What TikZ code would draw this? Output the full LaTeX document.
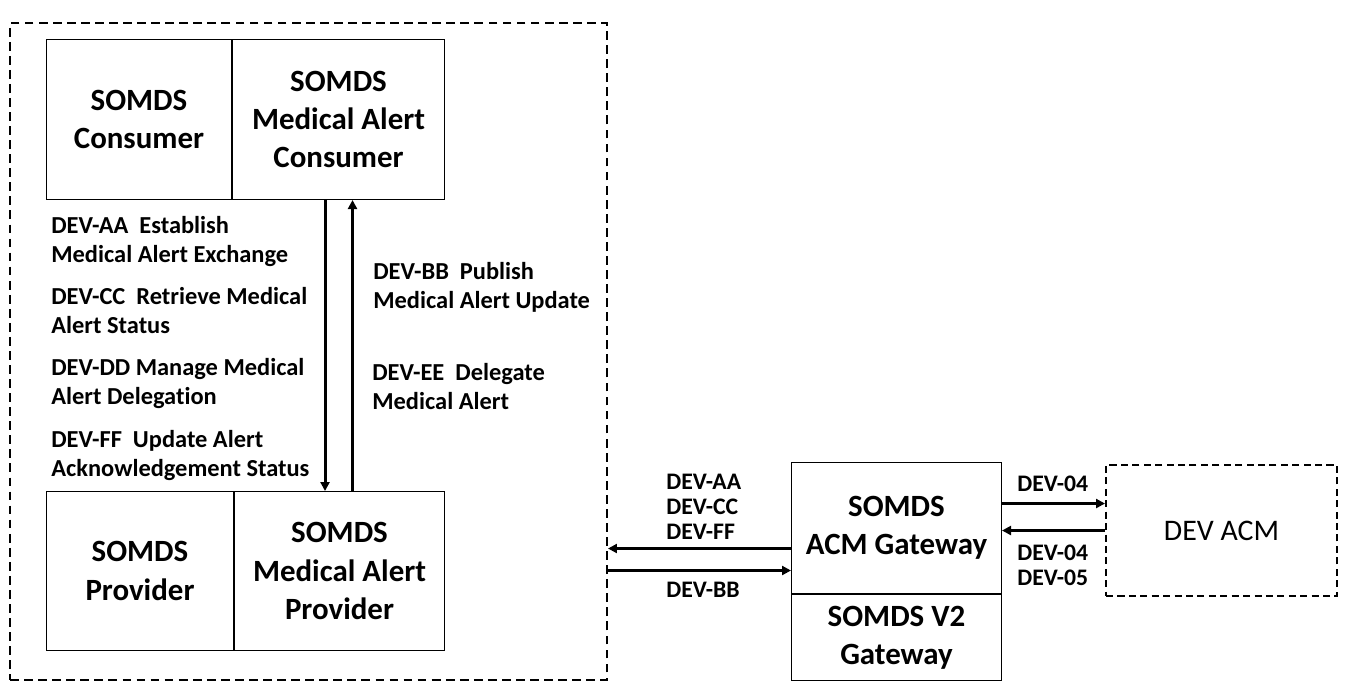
\documentclass[tikz,border=0pt]{standalone}
\usepackage{fontspec}
\setmainfont{Carlito}[Ligatures=NoCommon]
\usepackage{tikz}
\usetikzlibrary{arrows.meta,positioning}

\begin{document}
\begin{tikzpicture}[
    x=0.02cm, y=-0.02cm,
    box/.style={rectangle, draw, line width=0.6pt, minimum height=3.2cm, align=center, inner sep=0pt,
        font=\fontsize{17.6}{21.8}\selectfont\bfseries},
    dashbox/.style={rectangle, draw, line width=1.2pt, dash pattern=on 5pt off 3pt, inner sep=0pt},
    lbl/.style={anchor=base west, align=left, inner sep=0pt, font=\fontsize{13.9}{16.4}\selectfont\bfseries},
    tag/.style={anchor=base west, align=left, inner sep=0pt, font=\fontsize{13.5}{14.2}\selectfont\bfseries},
    arrow/.style={-{Triangle[length=1.8mm,width=1.8mm]}, line width=1.7pt}
]
    \useasboundingbox (0,0) rectangle (1346,697);

    \node[dashbox, anchor=north west, minimum width=11.94cm, minimum height=13.14cm] (sys) at (9,22) {};

    \node[box, anchor=north west, minimum width=3.7cm] (cons) at (46,39) {SOMDS\\Consumer};
    \node[box, right=0pt of cons, minimum width=4.24cm] (macons) {SOMDS\\Medical Alert\\Consumer};

    \node[box, anchor=north west, minimum width=3.74cm, minimum height=3.18cm] (prov) at (46,491) {SOMDS\\Provider};
    \node[box, right=0pt of prov, minimum width=4.2cm, minimum height=3.18cm] (macprov) {SOMDS\\Medical Alert\\Provider};

    \node[box, anchor=north west, minimum width=4.2cm, minimum height=2.62cm] (gw) at (791,462) {SOMDS\\ACM Gateway};
    \node[box, below=0pt of gw, minimum width=4.2cm, minimum height=1.72cm] (v2) {SOMDS V2\\Gateway};

    \node[dashbox, anchor=north west, minimum width=4.62cm, minimum height=2.62cm, dash pattern=on 4pt off 2.5pt,
        font=\fontsize{17}{20}\selectfont] (acm) at (1105,464) {DEV ACM};

    \draw[arrow] ([xshift=-0.27cm]macons.south) -- ([xshift=-0.27cm]macons.south |- macprov.north);
    \draw[arrow] ([xshift=0.28cm]macons.south |- macprov.north) -- ([xshift=0.28cm]macons.south);

    \draw[arrow] ([yshift=-0.41cm]gw.west) -- ([yshift=-0.41cm]gw.west -| sys.east);
    \draw[arrow] ([yshift=-0.85cm]gw.west -| sys.east) -- ([yshift=-0.85cm]gw.west);

    \draw[arrow] ([yshift=0.49cm]gw.east) -- ([yshift=0.49cm]gw.east -| acm.west);
    \draw[arrow] ([yshift=-0.05cm]gw.east -| acm.west) -- ([yshift=-0.05cm]gw.east);

    \node[lbl] (aa) at (51,262) {DEV-AA\ \ Establish\\Medical Alert Exchange};
    \node[lbl] (cc) at (51,333) {DEV-CC\ \ Retrieve Medical\\Alert Status};
    \node[lbl] (dd) at (51,404) {DEV-DD Manage Medical\\Alert Delegation};
    \node[lbl] (ff) at (51,476) {DEV-FF\ \ Update Alert\\Acknowledgement Status};
    \node[lbl] (bb) at (373,308) {DEV-BB\ \ Publish\\Medical Alert Update};
    \node[lbl] (ee) at (372,409) {DEV-EE\ \ Delegate\\Medical Alert};

    \node[tag] (outtag) at (666,539) {DEV-AA\\DEV-CC\\DEV-FF};
    \node[tag] (intag) at (666,597) {DEV-BB};
    \node[tag] (totag) at (1017,491) {DEV-04};
    \node[tag] (fromtag) at (1017,585) {DEV-04\\DEV-05};
\end{tikzpicture}
\end{document}
